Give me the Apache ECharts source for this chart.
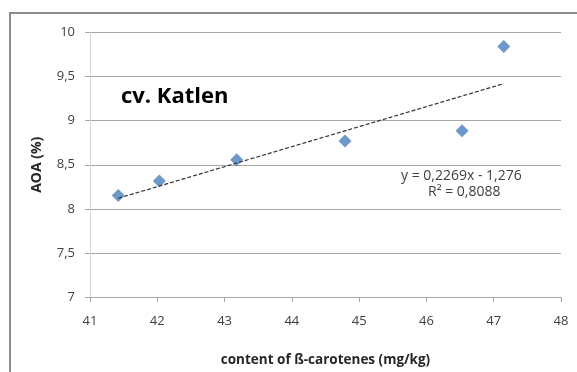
<!DOCTYPE html>
<html><head><meta charset="utf-8">
<script src="https://cdn.jsdelivr.net/npm/echarts@6/dist/echarts.min.js"></script>
<style>html,body{margin:0;padding:0;background:#fff;}#c{width:577px;height:372px;}</style>
</head><body><div id="c"></div>
<script>
var caroteneX = [41.42, 42.03, 43.18, 44.79, 46.53, 47.15];
var aoaY = [8.15, 8.315, 8.556, 8.77, 8.885, 9.84];
var trendX = [41.42, 47.15];
var trendY = [8.12, 9.42];
var xTicks = [41, 42, 43, 44, 45, 46, 47, 48];
var yTicks = [7, 7.5, 8, 8.5, 9, 9.5, 10];
var titleText = 'cv. Katlen';
var eqLines = ['y = 0,2269x - 1,276', 'R² = 0,8088'];

var chart = echarts.init(document.getElementById('c'), null, {renderer: 'canvas'});
var font = 'Open Sans, Liberation Sans, sans-serif';
var fmt = function (v) { return String(v).replace('.', ','); };
chart.setOption({
  animation: false,
  backgroundColor: '#fff',
  grid: {left: 90, right: 16, top: 32.5, bottom: 71, containLabel: false},
  graphic: [
    {type: 'rect', shape: {x: 10, y: 13, width: 600, height: 400}, style: {fill: 'none', stroke: '#8c8c8c', lineWidth: 2}, z: -1},
    {type: 'text', left: 121, top: 86, style: {text: titleText, font: 'bold 22px ' + font, fill: '#000'}},
    {type: 'text', left: 401, top: 169, style: {text: eqLines[0], font: '14px ' + font, fill: '#404040'}},
    {type: 'text', left: 428, top: 185, style: {text: eqLines[1], font: '14px ' + font, fill: '#404040'}}
  ],
  xAxis: {
    type: 'value', min: xTicks[0], max: xTicks[xTicks.length - 1], interval: 1,
    name: 'content of ß-carotenes (mg/kg)', nameLocation: 'middle', nameGap: 56,
    nameTextStyle: {fontFamily: font, fontWeight: 'bold', fontSize: 13.5, color: '#262626'},
    axisLine: {show: true, lineStyle: {color: '#a6a6a6', width: 1}},
    axisTick: {show: true, length: 5, lineStyle: {color: '#a6a6a6'}},
    axisLabel: {fontFamily: font, fontSize: 13, color: '#404040', margin: 18},
    splitLine: {show: false}
  },
  yAxis: {
    type: 'value', min: yTicks[0], max: yTicks[yTicks.length - 1], interval: 0.5,
    name: 'AOA (%)', nameLocation: 'middle', nameGap: 46, nameRotate: 90,
    nameTextStyle: {fontFamily: font, fontWeight: 'bold', fontSize: 14, color: '#262626'},
    axisLine: {show: true, lineStyle: {color: '#d9d9d9', width: 1}},
    axisTick: {show: true, length: 5, lineStyle: {color: '#a6a6a6'}},
    axisLabel: {fontFamily: font, fontSize: 13, color: '#404040', margin: 15, formatter: fmt},
    splitLine: {show: true, lineStyle: {color: '#a6a6a6', width: 1}}
  },
  series: [
    {
      type: 'line', data: trendX.map(function (x, i) { return [x, trendY[i]]; }),
      symbol: 'none', lineStyle: {color: '#333', width: 1.2, type: [4, 2]}, z: 3
    },
    {
      type: 'scatter', data: caroteneX.map(function (x, i) { return [x, aoaY[i]]; }),
      symbol: 'diamond', symbolSize: 13, itemStyle: {color: '#4a7ebb'}, z: 2
    }
  ]
});
</script></body></html>
